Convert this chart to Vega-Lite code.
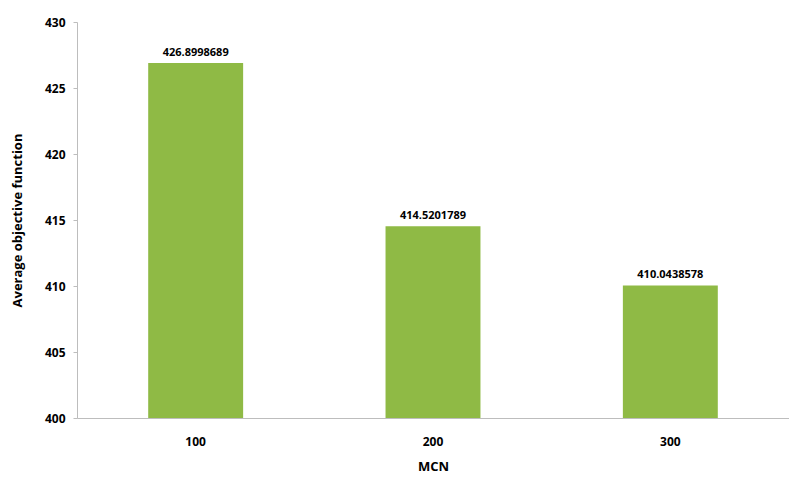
{
  "$schema": "https://vega.github.io/schema/vega-lite/v6.json",
  "autosize": {"type": "none"},
  "width": 712,
  "height": 396,
  "padding": {"left": 77, "top": 22, "right": 0, "bottom": 59},
  "background": "white",
  "data": {"values": [
    {"MCN": "100", "value": 426.8998689},
    {"MCN": "200", "value": 414.5201789},
    {"MCN": "300", "value": 410.0438578}
  ]},
  "config": {
    "view": {"stroke": null},
    "font": "Open Sans"
  },
  "encoding": {
    "x": {"field": "MCN", "type": "nominal", "sort": null,
      "scale": {"paddingInner": 0.6, "paddingOuter": 0.3},
      "axis": {"labelAngle": 0, "labelFontWeight": "bold", "labelFontSize": 12, "labelColor": "#000", "labelPadding": 18, "ticks": false, "domainColor": "#bdbdbd", "title": "MCN", "titleFontSize": 13, "titleFontWeight": "bold", "titlePadding": 13, "titleColor": "#000"}},
    "y": {"field": "value", "type": "quantitative",
      "scale": {"domain": [400, 430], "zero": false, "nice": false},
      "axis": {"values": [400, 405, 410, 415, 420, 425, 430], "grid": false, "labelFontWeight": "bold", "labelFontSize": 12, "labelColor": "#000", "tickColor": "#bdbdbd", "tickSize": 4, "domainColor": "#bdbdbd", "labelPadding": 8, "title": "Average  objective function", "titleFontSize": 13, "titleFontWeight": "bold", "titleColor": "#000", "titlePadding": 20}}
  },
  "layer": [
    {"mark": {"type": "bar", "color": "#8fba45"},
      "encoding": {"y2": {"datum": 400}}},
    {"mark": {"type": "text", "dy": -10, "fontWeight": "bold", "fontSize": 11, "color": "#000"},
      "encoding": {"text": {"field": "value", "type": "quantitative", "format": ".7f"}}}
  ]
}
